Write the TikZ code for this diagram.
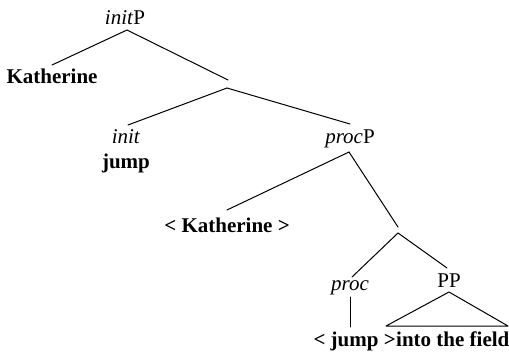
\documentclass[tikz,border=0pt]{standalone}
\usepackage{fontspec}
\setmainfont{Liberation Serif}
\begin{document}
\begin{tikzpicture}[x=1pt,y=-1pt,
  lbl/.style={inner sep=0pt,font=\fontsize{21}{24}\selectfont,anchor=base},
  word/.style={lbl,font=\fontsize{21}{24}\selectfont\bfseries},
  branch/.style={line width=1pt,line cap=round}]
\useasboundingbox (0,0) rectangle (509,353);
% labels
\node[lbl]  (initP) at (125,25)  {\textit{init}P};
\node[word] (kath)  at (52,84)   {Katherine};
\node[lbl]  (init)  at (126,143) {\textit{init}};
\node[word] (jump)  at (126,168) {jump};
\node[lbl]  (procP) at (350,143) {\textit{proc}P};
\node[word] (kath2) at (227,232) {< Katherine >};
\node[lbl]  (proc)  at (350,290) {\textit{proc}};
\node[lbl]  (PP)    at (449,287) {PP};
\node[word,anchor=base east] (jump2) at (396,346) {< jump >};
\node[word,anchor=base west] (field) at (jump2.base east) {into the field};
% branching points
\coordinate (initP-b) at (127,30);
\coordinate (kath-t)  at (52,65);
\coordinate (x1-t)    at (228,80);
\coordinate (x1-b)    at (227,88);
\coordinate (init-t)  at (128,125);
\coordinate (procP-t) at (350,124);
\coordinate (procP-b) at (349,152);
\coordinate (kath2-t) at (227,210);
\coordinate (x2-t)    at (398,227);
\coordinate (x2-b)    at (398,233);
\coordinate (proc-t)  at (352,277);
\coordinate (PP-t)    at (447,268);
\coordinate (proc-b)  at (350,297);
\coordinate (jump2-t) at (350,327);
\coordinate (PP-b)    at (449,292);
\coordinate (tri-l)   at (386,326);
\coordinate (tri-r)   at (508,326);
% branches
\draw[branch] (kath-t) -- (initP-b) -- (x1-t);
\draw[branch] (init-t) -- (x1-b) -- (procP-t);
\draw[branch] (kath2-t) -- (procP-b) -- (x2-t);
\draw[branch] (proc-t) -- (x2-b) -- (PP-t);
\draw[branch] (proc-b) -- (jump2-t);
\draw[branch,line join=round] (tri-l) -- (PP-b) -- (tri-r) -- cycle;
\end{tikzpicture}
\end{document}
